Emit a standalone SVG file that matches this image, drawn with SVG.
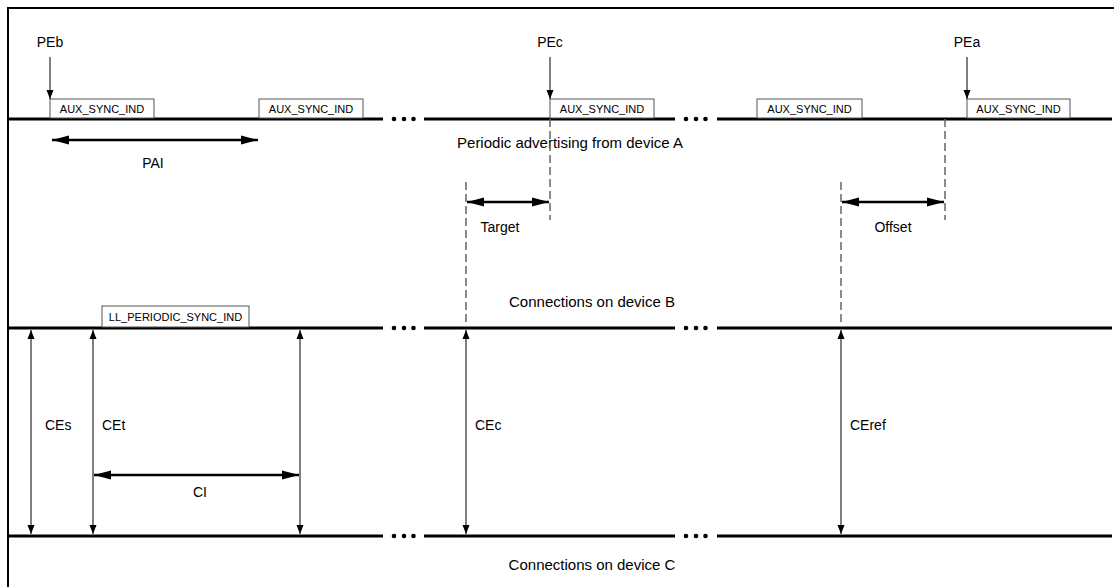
<svg xmlns="http://www.w3.org/2000/svg" width="1114" height="587" viewBox="0 0 1114 587">
<defs>
<marker id="bigS" markerUnits="userSpaceOnUse" markerWidth="18" markerHeight="12" refX="0" refY="5" orient="auto"><path d="M0,5 L17,0.5 L17,9.5 Z" fill="#000"/></marker>
<marker id="bigE" markerUnits="userSpaceOnUse" markerWidth="18" markerHeight="12" refX="17" refY="5" orient="auto"><path d="M17,5 L0,0.5 L0,9.5 Z" fill="#000"/></marker>
<marker id="smS" markerUnits="userSpaceOnUse" markerWidth="10" markerHeight="8" refX="0" refY="3.5" orient="auto"><path d="M0,3.5 L9,0 L9,7 Z" fill="#000"/></marker>
<marker id="smE" markerUnits="userSpaceOnUse" markerWidth="10" markerHeight="8" refX="9" refY="3.5" orient="auto"><path d="M9,3.5 L0,0 L0,7 Z" fill="#000"/></marker>
</defs>
<style>
.t{font-family:"Liberation Sans",Arial,sans-serif;font-size:14px;fill:#000}
.L{font-size:15px}
.s{font-family:"Liberation Sans",Arial,sans-serif;font-size:11px;fill:#000}
.tl{stroke:#000;stroke-width:3;fill:none}
.box{fill:#fff;stroke:#555;stroke-width:1}
.dash{stroke:#666;stroke-width:1.5;stroke-dasharray:8,4;fill:none}
.big{stroke:#000;stroke-width:2.5;fill:none;marker-start:url(#bigS);marker-end:url(#bigE)}
.sm{stroke:#000;stroke-width:1;fill:none;marker-start:url(#smS);marker-end:url(#smE)}
.pe{stroke:#000;stroke-width:1;fill:none;marker-end:url(#smE)}
.dot{fill:#000}
</style>
<rect width="1114" height="587" fill="#fff"/>
<path d="M8,587 V8 H1114" fill="none" stroke="#000" stroke-width="2"/>

<g id="timelines">
<path class="tl" d="M8,119 H383 M424,119 H675 M717,119 H1112"/>
<path class="tl" d="M8,328 H383 M424,328 H675 M717,328 H1112"/>
<path class="tl" d="M8,536 H383 M424,536 H675 M717,536 H1112"/>
<g class="dot">
<circle cx="394" cy="119" r="2.3"/><circle cx="404" cy="119" r="2.3"/><circle cx="413.5" cy="119" r="2.3"/>
<circle cx="686" cy="119" r="2.3"/><circle cx="696" cy="119" r="2.3"/><circle cx="705.5" cy="119" r="2.3"/>
<circle cx="394" cy="328" r="2.3"/><circle cx="404" cy="328" r="2.3"/><circle cx="413.5" cy="328" r="2.3"/>
<circle cx="686" cy="328" r="2.3"/><circle cx="696" cy="328" r="2.3"/><circle cx="705.5" cy="328" r="2.3"/>
<circle cx="394" cy="536" r="2.3"/><circle cx="404" cy="536" r="2.3"/><circle cx="413.5" cy="536" r="2.3"/>
<circle cx="686" cy="536" r="2.3"/><circle cx="696" cy="536" r="2.3"/><circle cx="705.5" cy="536" r="2.3"/>
</g>
<text class="t L" x="570" y="148" text-anchor="middle">Periodic advertising from device A</text>
<text class="t L" x="592" y="307" text-anchor="middle">Connections on device B</text>
<text class="t L" x="592" y="570" text-anchor="middle">Connections on device C</text>
</g>

<g id="aux1"><rect class="box" x="50" y="99" width="104" height="19"/><text class="s" x="102" y="113" text-anchor="middle">AUX_SYNC_IND</text></g>
<g id="aux2"><rect class="box" x="259" y="99" width="104" height="19"/><text class="s" x="311" y="113" text-anchor="middle">AUX_SYNC_IND</text></g>
<g id="aux3"><rect class="box" x="550" y="99" width="104" height="19"/><text class="s" x="602" y="113" text-anchor="middle">AUX_SYNC_IND</text></g>
<g id="aux4"><rect class="box" x="757" y="99" width="105" height="19"/><text class="s" x="809.5" y="113" text-anchor="middle">AUX_SYNC_IND</text></g>
<g id="aux5"><rect class="box" x="967" y="99" width="103" height="19"/><text class="s" x="1018.5" y="113" text-anchor="middle">AUX_SYNC_IND</text></g>
<g id="llsync"><rect class="box" x="102" y="306" width="147" height="21"/><text class="s" x="175.5" y="321" text-anchor="middle">LL_PERIODIC_SYNC_IND</text></g>

<g id="pe-labels">
<text class="t" x="50" y="47" text-anchor="middle">PEb</text>
<text class="t" x="550" y="47" text-anchor="middle">PEc</text>
<text class="t" x="967" y="47" text-anchor="middle">PEa</text>
</g>

<g id="connectors">
<path class="pe" d="M50,57 V99"/>
<path class="pe" d="M550,57 V99"/>
<path class="pe" d="M967,57 V99"/>
<path class="dash" d="M550,119 V220"/>
<path class="dash" d="M945,119 V220"/>
<path class="dash" d="M466,182 V326"/>
<path class="dash" d="M841,182 V326"/>
<path class="big" d="M52,140 H258"/>
<path class="big" d="M467,202 H549"/>
<path class="big" d="M842,202 H944"/>
<path class="big" d="M94,475 H299"/>
<path class="sm" d="M31,330 V534"/>
<path class="sm" d="M93,330 V534"/>
<path class="sm" d="M300,330 V534"/>
<path class="sm" d="M466,330 V534"/>
<path class="sm" d="M841,330 V534"/>
</g>

<g id="labels">
<text class="t" x="153" y="168" text-anchor="middle">PAI</text>
<text class="t" x="500" y="232" text-anchor="middle">Target</text>
<text class="t" x="893" y="232" text-anchor="middle">Offset</text>
<text class="t" x="200" y="497" text-anchor="middle">CI</text>
<text class="t" x="45" y="430">CEs</text>
<text class="t" x="102" y="430">CEt</text>
<text class="t" x="475" y="430">CEc</text>
<text class="t" x="850" y="430">CEref</text>
</g>
</svg>
